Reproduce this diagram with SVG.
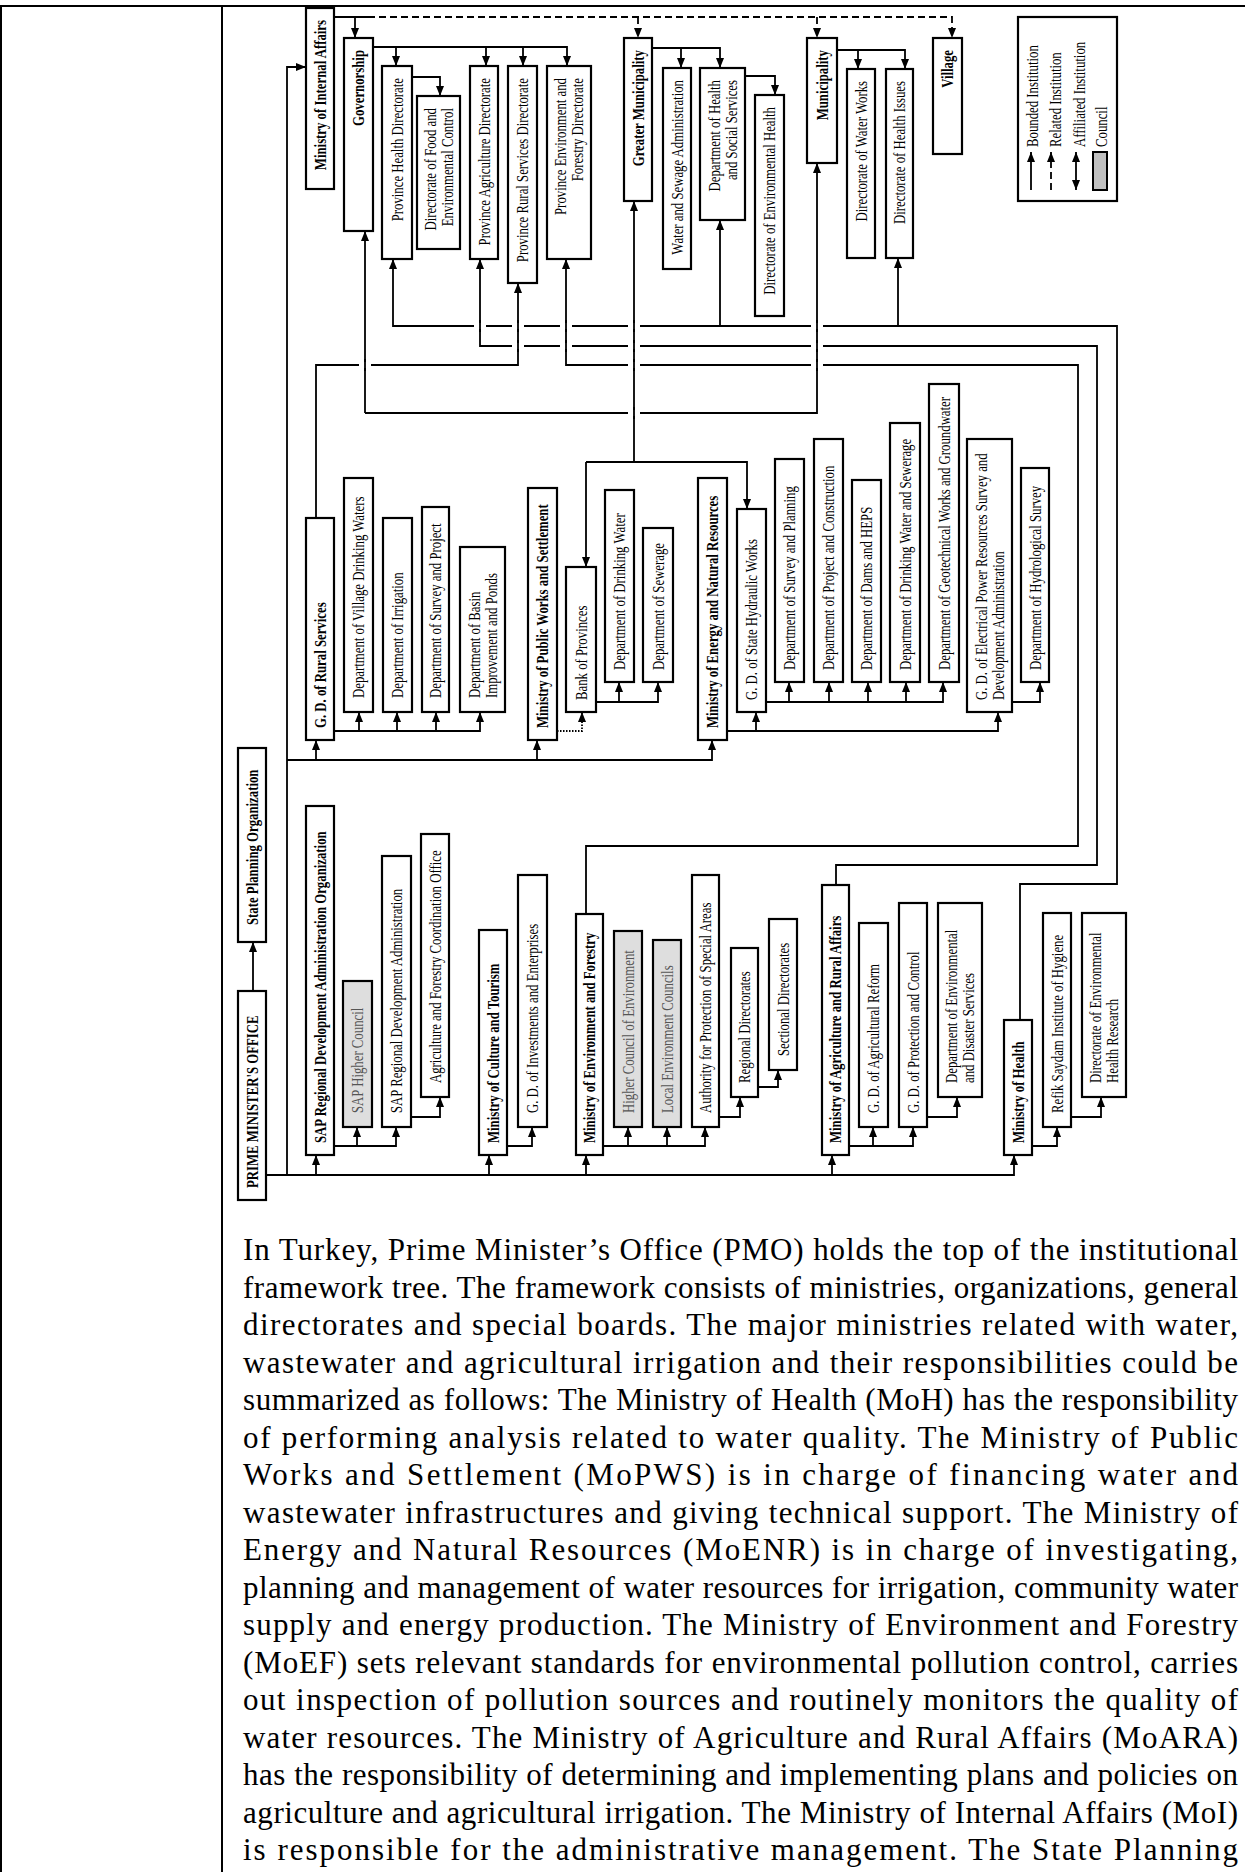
<svg xmlns="http://www.w3.org/2000/svg" width="1245" height="1872" viewBox="0 0 1245 1872">
<defs>
<style>
.b{fill:#fff;stroke:#000;stroke-width:2.2}
.g{fill:#dedede;stroke:#000;stroke-width:2.2}
.t{font-family:"Liberation Serif","Times New Roman",serif;font-size:16.5px;fill:#000}
.tb{font-weight:bold}
.tg{fill:#555}
.e{text-anchor:end}
.c{fill:none;stroke:#000;stroke-width:1.8}
.a{marker-end:url(#ah)}
.d{stroke-dasharray:7 4}
.o{stroke-dasharray:1.5 1.5}
.p{font-family:"Liberation Serif","Times New Roman",serif;font-size:31px;fill:#000}
.f{fill:none;stroke:#000;stroke-width:2}
.gap{fill:#fff;stroke:none}
</style>
<marker id="ah" viewBox="0 0 10 8" refX="10" refY="4" markerWidth="10" markerHeight="8" markerUnits="userSpaceOnUse" orient="auto-start-reverse"><path d="M0,0 L10,4 L0,8 z" fill="#000"/></marker>
</defs>
<rect x="0" y="0" width="1245" height="1872" fill="#fff"/>
<g id="table">
<line class="f" x1="0" y1="6" x2="1245" y2="6" stroke-width="2.5"/>
<line class="f" x1="1" y1="6" x2="1" y2="1872" stroke-width="1.5"/>
<line class="f" x1="222" y1="6" x2="222" y2="1872" stroke-width="1.5"/>
</g>

<g id="connectors">
<path class="c" d="M334,17 H368"/>
<path class="c a" d="M355,17 V38"/>
<path class="c d a" d="M368,17 H952 V38"/>
<path class="c d a" d="M638,17 V38"/>
<path class="c d a" d="M817,17 V38"/>
<path class="c a" d="M373,47 H567 V66"/>
<path class="c a" d="M396,47 V66"/>
<path class="c a" d="M486,47 V66"/>
<path class="c a" d="M523,47 V66"/>
<path class="c a" d="M412,77 H440 V96"/>
<path class="c a" d="M652,48 H720 V68"/>
<path class="c a" d="M681,48 V68"/>
<path class="c a" d="M745,76 H775 V95"/>
<path class="c a" d="M837,50 H905 V69"/>
<path class="c a" d="M858,50 V69"/>
<path class="c a" d="M1020,1020 V884 H1117 V326 H393 V259"/>
<path class="c a" d="M720,326 V220"/>
<path class="c a" d="M898,326 V258"/>
<path class="c a" d="M836,885 V865 H1097 V346 H480 V259"/>
<path class="c a" d="M586,914 V846 H1078 V365 H566 V259"/>
<path class="c a" d="M316,518 V365 H518 V283"/>
<path class="c a" d="M365,413 V231"/>
<path class="c a" d="M365,413 H817 V163"/>
<path class="c a" d="M634,462 V201"/>
<path class="c a" d="M586,462 H747 V509"/>
<path class="c a" d="M586,462 V567"/>
<g>
<rect class="gap" x="474" y="323" width="12" height="6"/><rect class="gap" x="512" y="323" width="12" height="6"/><rect class="gap" x="560" y="323" width="12" height="6"/><rect class="gap" x="628" y="323" width="12" height="6"/><rect class="gap" x="811" y="323" width="12" height="6"/>
<rect class="gap" x="512" y="343" width="12" height="6"/><rect class="gap" x="560" y="343" width="12" height="6"/><rect class="gap" x="628" y="343" width="12" height="6"/><rect class="gap" x="811" y="343" width="12" height="6"/>
<rect class="gap" x="359" y="362" width="12" height="6"/><rect class="gap" x="628" y="362" width="12" height="6"/><rect class="gap" x="811" y="362" width="12" height="6"/>
<rect class="gap" x="628" y="410" width="12" height="6"/>
<path class="c" d="M480,320 V332 M518,320 V332 M566,320 V332 M634,320 V332 M817,320 V332 M518,340 V352 M566,340 V352 M634,340 V352 M817,340 V352 M365,359 V371 M634,359 V371 M817,359 V371 M634,407 V419"/>
</g>
<path class="c a" d="M253,991 V942"/>
<path class="c a" d="M266,1175 H1014 V1155"/>
<path class="c a" d="M316,1175 V1155"/>
<path class="c a" d="M489,1175 V1155"/>
<path class="c a" d="M586,1175 V1155"/>
<path class="c a" d="M832,1175 V1155"/>
<path class="c a" d="M287,1175 V67 H306"/>
<path class="c a" d="M287,760 H712 V740"/>
<path class="c a" d="M316,760 V740"/>
<path class="c a" d="M537,760 V740"/>
<path class="c a" d="M334,731 H480 V712"/>
<path class="c a" d="M359,731 V712"/>
<path class="c a" d="M397,731 V712"/>
<path class="c a" d="M436,731 V712"/>
<path class="c o a" d="M557,731 H582 V712"/>
<path class="c a" d="M596,702 H658 V682"/>
<path class="c a" d="M619,702 V682"/>
<path class="c a" d="M727,731 H998 V712"/>
<path class="c a" d="M756,731 V712"/>
<path class="c a" d="M766,702 H943 V682"/>
<path class="c a" d="M789,702 V682"/>
<path class="c a" d="M829,702 V682"/>
<path class="c a" d="M868,702 V682"/>
<path class="c a" d="M906,702 V682"/>
<path class="c a" d="M1012,702 H1040 V682"/>
<path class="c a" d="M334,1146 H396 V1127"/>
<path class="c a" d="M357,1146 V1127"/>
<path class="c a" d="M411,1117 H440 V1097"/>
<path class="c a" d="M507,1146 H532 V1127"/>
<path class="c a" d="M603,1146 H705 V1127"/>
<path class="c a" d="M628,1146 V1127"/>
<path class="c a" d="M667,1146 V1127"/>
<path class="c a" d="M719,1117 H740 V1097"/>
<path class="c a" d="M758,1087 H778 V1070"/>
<path class="c a" d="M849,1146 H913 V1127"/>
<path class="c a" d="M873,1146 V1127"/>
<path class="c a" d="M927,1117 H957 V1097"/>
<path class="c a" d="M1032,1146 H1057 V1127"/>
<path class="c a" d="M1071,1117 H1101 V1097"/>
</g>

<g id="n-moia"><rect class="b" x="306" y="8" width="28" height="181"/><text class="t tb e" transform="translate(325.5,20) rotate(-90) scale(0.775,1)">Ministry of Internal Affairs</text></g>
<g id="n-gov"><rect class="b" x="344" y="38" width="29" height="193"/><text class="t tb e" transform="translate(364,50) rotate(-90) scale(0.775,1)">Governorship</text></g>
<g id="n-phd"><rect class="b" x="382" y="66" width="30" height="193"/><text class="t e" transform="translate(402.5,78) rotate(-90) scale(0.775,1)">Province Health Directorate</text></g>
<g id="n-dfec"><rect class="b" x="417" y="96" width="43" height="153"/><text class="t e" transform="translate(435.5,108) rotate(-90) scale(0.775,1)">Directorate of Food and</text><text class="t e" transform="translate(452.5,108) rotate(-90) scale(0.775,1)">Environmental Control</text></g>
<g id="n-pad"><rect class="b" x="470" y="66" width="28" height="193"/><text class="t e" transform="translate(489.5,78) rotate(-90) scale(0.775,1)">Province Agriculture Directorate</text></g>
<g id="n-prsd"><rect class="b" x="508" y="66" width="29" height="217"/><text class="t e" transform="translate(528,78) rotate(-90) scale(0.775,1)">Province Rural Services Directorate</text></g>
<g id="n-pefd"><rect class="b" x="547" y="66" width="44" height="193"/><text class="t e" transform="translate(566,78) rotate(-90) scale(0.775,1)">Province Environment and</text><text class="t e" transform="translate(583,78) rotate(-90) scale(0.775,1)">Forestry  Directorate</text></g>
<g id="n-gm"><rect class="b" x="624" y="38" width="28" height="163"/><text class="t tb e" transform="translate(643.5,50) rotate(-90) scale(0.775,1)">Greater Municipality</text></g>
<g id="n-wsa"><rect class="b" x="663" y="68" width="28" height="201"/><text class="t e" transform="translate(682.5,80) rotate(-90) scale(0.775,1)">Water and Sewage  Administration</text></g>
<g id="n-dhss"><rect class="b" x="700" y="68" width="45" height="152"/><text class="t e" transform="translate(719.5,80) rotate(-90) scale(0.775,1)">Department of Health</text><text class="t e" transform="translate(736.5,80) rotate(-90) scale(0.775,1)">and Social Services</text></g>
<g id="n-deh"><rect class="b" x="755" y="95" width="29" height="221"/><text class="t e" transform="translate(775,107) rotate(-90) scale(0.775,1)">Directorate of Environmental Health</text></g>
<g id="n-mun"><rect class="b" x="807" y="38" width="30" height="125"/><text class="t tb e" transform="translate(827.5,50) rotate(-90) scale(0.775,1)">Municipality</text></g>
<g id="n-dww"><rect class="b" x="847" y="69" width="28" height="189"/><text class="t e" transform="translate(866.5,81) rotate(-90) scale(0.775,1)">Directorate of Water Works</text></g>
<g id="n-dhi"><rect class="b" x="886" y="69" width="27" height="189"/><text class="t e" transform="translate(905,81) rotate(-90) scale(0.775,1)">Directorate of Health Issues</text></g>
<g id="n-village"><rect class="b" x="933" y="38" width="29" height="116"/><text class="t tb e" transform="translate(953,50) rotate(-90) scale(0.775,1)">Village</text></g>

<g id="legend">
<rect class="b" x="1018" y="17" width="99" height="184"/>
<path class="c a" d="M1031,190 V152"/>
<path class="c d a" d="M1051,190 V152"/>
<path class="c" d="M1076,190 V152" marker-start="url(#ah)" marker-end="url(#ah)"/>
<rect x="1093" y="152" width="14" height="38" fill="#c0c0c0" stroke="#000" stroke-width="2"/>
<text class="t" transform="translate(1038,147) rotate(-90) scale(0.775,1)">Bounded Institution</text>
<text class="t" transform="translate(1061,147) rotate(-90) scale(0.775,1)">Related Institution</text>
<text class="t" transform="translate(1085,147) rotate(-90) scale(0.775,1)">Affiliated Institution</text>
<text class="t" transform="translate(1107,147) rotate(-90) scale(0.775,1)">Council</text>
</g>

<g id="n-gdrs"><rect class="b" x="306" y="518" width="28" height="222"/><text class="t tb" transform="translate(325.5,728) rotate(-90) scale(0.775,1)">G. D. of Rural Services</text></g>
<g id="n-dvdw"><rect class="b" x="344" y="478" width="29" height="234"/><text class="t" transform="translate(364,698) rotate(-90) scale(0.775,1)">Department of Village Drinking Waters</text></g>
<g id="n-doi"><rect class="b" x="383" y="518" width="29" height="194"/><text class="t" transform="translate(403,698) rotate(-90) scale(0.775,1)">Department of Irrigation</text></g>
<g id="n-dsp"><rect class="b" x="422" y="507" width="27" height="205"/><text class="t" transform="translate(441,698) rotate(-90) scale(0.775,1)">Department of Survey and Project</text></g>
<g id="n-dbip"><rect class="b" x="460" y="547" width="45" height="165"/><text class="t" transform="translate(479.5,698) rotate(-90) scale(0.775,1)">Department of Basin</text><text class="t" transform="translate(496.5,698) rotate(-90) scale(0.775,1)">Improvement  and Ponds</text></g>
<g id="n-mopws"><rect class="b" x="528" y="488" width="29" height="252"/><text class="t tb" transform="translate(548,728) rotate(-90) scale(0.775,1)">Ministry of Public Works and Settlement</text></g>
<g id="n-bop"><rect class="b" x="566" y="567" width="30" height="145"/><text class="t" transform="translate(586.5,700) rotate(-90) scale(0.775,1)">Bank of Provinces</text></g>
<g id="n-ddw"><rect class="b" x="605" y="490" width="29" height="192"/><text class="t" transform="translate(625,670) rotate(-90) scale(0.775,1)">Department of Drinking Water</text></g>
<g id="n-ds"><rect class="b" x="643" y="528" width="30" height="154"/><text class="t" transform="translate(663.5,670) rotate(-90) scale(0.775,1)">Department of Sewerage</text></g>
<g id="n-moenr"><rect class="b" x="698" y="478" width="29" height="262"/><text class="t tb" transform="translate(718,728) rotate(-90) scale(0.775,1)">Ministry of Energy and Natural Resources</text></g>
<g id="n-gdshw"><rect class="b" x="737" y="509" width="29" height="203"/><text class="t" transform="translate(757,700) rotate(-90) scale(0.775,1)">G. D. of State Hydraulic Works</text></g>
<g id="n-dspl"><rect class="b" x="775" y="459" width="29" height="223"/><text class="t" transform="translate(795,670) rotate(-90) scale(0.775,1)">Department of Survey and Planning</text></g>
<g id="n-dpc"><rect class="b" x="814" y="439" width="29" height="243"/><text class="t" transform="translate(834,670) rotate(-90) scale(0.775,1)">Department of Project  and Construction</text></g>
<g id="n-ddh"><rect class="b" x="852" y="480" width="29" height="202"/><text class="t" transform="translate(872,670) rotate(-90) scale(0.775,1)">Department of Dams and HEPS</text></g>
<g id="n-ddws"><rect class="b" x="890" y="423" width="30" height="259"/><text class="t" transform="translate(910.5,670) rotate(-90) scale(0.775,1)">Department of Drinking Water and Sewerage</text></g>
<g id="n-dgwg"><rect class="b" x="929" y="384" width="30" height="298"/><text class="t" transform="translate(949.5,670) rotate(-90) scale(0.775,1)">Department of Geotechnical Works and Groundwater</text></g>
<g id="n-gdep"><rect class="b" x="967" y="439" width="45" height="273"/><text class="t" transform="translate(986.5,700) rotate(-90) scale(0.775,1)">G. D. of Electrical Power Resources Survey and</text><text class="t" transform="translate(1003.5,700) rotate(-90) scale(0.775,1)">Development  Administration</text></g>
<g id="n-dhs"><rect class="b" x="1021" y="468" width="28" height="214"/><text class="t" transform="translate(1040.5,670) rotate(-90) scale(0.775,1)">Department of Hydrological Survey</text></g>

<g id="n-spo"><rect class="b" x="238" y="748" width="28" height="194"/><text class="t tb" transform="translate(257.5,925) rotate(-90) scale(0.775,1)">State Planning Organization</text></g>
<g id="n-pmo"><rect class="b" x="238" y="991" width="28" height="209"/><text class="t tb" transform="translate(257.5,1188) rotate(-90) scale(0.775,1)">PRIME MINISTER'S OFFICE</text></g>
<g id="n-saprdao"><rect class="b" x="306" y="806" width="28" height="349"/><text class="t tb" transform="translate(325.5,1143) rotate(-90) scale(0.775,1)">SAP Regional Development  Administration Organization</text></g>
<g id="n-saphc"><rect class="g" x="343" y="981" width="29" height="146"/><text class="t tg" transform="translate(363,1113) rotate(-90) scale(0.775,1)">SAP Higher Council</text></g>
<g id="n-saprda"><rect class="b" x="382" y="856" width="29" height="271"/><text class="t" transform="translate(402,1113) rotate(-90) scale(0.775,1)">SAP Regional Development  Administration</text></g>
<g id="n-afco"><rect class="b" x="421" y="834" width="28" height="263"/><text class="t" transform="translate(440.5,1083) rotate(-90) scale(0.775,1)">Agriculture and Forestry Coordination Office</text></g>
<g id="n-moct"><rect class="b" x="479" y="930" width="28" height="225"/><text class="t tb" transform="translate(498.5,1143) rotate(-90) scale(0.775,1)">Ministry of Culture and Tourism</text></g>
<g id="n-gdie"><rect class="b" x="518" y="875" width="29" height="252"/><text class="t" transform="translate(538,1113) rotate(-90) scale(0.775,1)">G. D. of Investments and Enterprises</text></g>
<g id="n-moef"><rect class="b" x="576" y="914" width="27" height="241"/><text class="t tb" transform="translate(595,1143) rotate(-90) scale(0.775,1)">Ministry of Environment and Forestry</text></g>
<g id="n-hce"><rect class="g" x="614" y="931" width="28" height="196"/><text class="t tg" transform="translate(633.5,1113) rotate(-90) scale(0.775,1)">Higher Council of Environment</text></g>
<g id="n-lec"><rect class="g" x="653" y="940" width="28" height="187"/><text class="t tg" transform="translate(672.5,1113) rotate(-90) scale(0.775,1)">Local Environment  Councils</text></g>
<g id="n-apsa"><rect class="b" x="692" y="875" width="27" height="252"/><text class="t" transform="translate(711,1113) rotate(-90) scale(0.775,1)">Authority for Protection of Special Areas</text></g>
<g id="n-rd"><rect class="b" x="731" y="948" width="27" height="149"/><text class="t" transform="translate(750,1083) rotate(-90) scale(0.775,1)">Regional Directorates</text></g>
<g id="n-sd"><rect class="b" x="769" y="919" width="28" height="151"/><text class="t" transform="translate(788.5,1056) rotate(-90) scale(0.775,1)">Sectional Directorates</text></g>
<g id="n-moara"><rect class="b" x="822" y="885" width="27" height="270"/><text class="t tb" transform="translate(841,1143) rotate(-90) scale(0.775,1)">Ministry of Agriculture and Rural Affairs</text></g>
<g id="n-gdar"><rect class="b" x="859" y="923" width="29" height="204"/><text class="t" transform="translate(879,1113) rotate(-90) scale(0.775,1)">G. D. of Agricultural Reform</text></g>
<g id="n-gdpc"><rect class="b" x="899" y="903" width="28" height="224"/><text class="t" transform="translate(918.5,1113) rotate(-90) scale(0.775,1)">G. D. of Protection  and Control</text></g>
<g id="n-deds"><rect class="b" x="938" y="903" width="44" height="194"/><text class="t" transform="translate(957,1083) rotate(-90) scale(0.775,1)">Department of Environmental</text><text class="t" transform="translate(974,1083) rotate(-90) scale(0.775,1)">and Disaster Services</text></g>
<g id="n-moh"><rect class="b" x="1004" y="1020" width="28" height="135"/><text class="t tb" transform="translate(1023.5,1143) rotate(-90) scale(0.775,1)">Ministry of Health</text></g>
<g id="n-refik"><rect class="b" x="1043" y="913" width="28" height="214"/><text class="t" transform="translate(1062.5,1113) rotate(-90) scale(0.775,1)">Refik Saydam Institute of Hygiene</text></g>
<g id="n-dehr"><rect class="b" x="1082" y="913" width="44" height="184"/><text class="t" transform="translate(1101,1083) rotate(-90) scale(0.775,1)">Directorate of Environmental</text><text class="t" transform="translate(1118,1083) rotate(-90) scale(0.775,1)">Health  Research</text></g>

<g id="paragraph">
<text class="p" x="243" y="1260" textLength="995" lengthAdjust="spacing">In Turkey, Prime Minister’s Office (PMO) holds the top of the institutional</text>
<text class="p" x="243" y="1297.5" textLength="995" lengthAdjust="spacing">framework tree. The framework consists of ministries, organizations, general</text>
<text class="p" x="243" y="1335" textLength="995" lengthAdjust="spacing">directorates and special boards. The major ministries related with water,</text>
<text class="p" x="243" y="1372.5" textLength="995" lengthAdjust="spacing">wastewater and agricultural irrigation and their responsibilities could be</text>
<text class="p" x="243" y="1410" textLength="995" lengthAdjust="spacing">summarized as follows: The Ministry of Health (MoH) has the responsibility</text>
<text class="p" x="243" y="1447.5" textLength="995" lengthAdjust="spacing">of performing analysis related to water quality. The Ministry of Public</text>
<text class="p" x="243" y="1485" textLength="995" lengthAdjust="spacing">Works and Settlement (MoPWS) is in charge of financing water and</text>
<text class="p" x="243" y="1522.5" textLength="995" lengthAdjust="spacing">wastewater infrastructures and giving technical support. The Ministry of</text>
<text class="p" x="243" y="1560" textLength="995" lengthAdjust="spacing">Energy and Natural Resources (MoENR) is in charge of investigating,</text>
<text class="p" x="243" y="1597.5" textLength="995" lengthAdjust="spacing">planning and management of water resources for irrigation, community water</text>
<text class="p" x="243" y="1635" textLength="995" lengthAdjust="spacing">supply and energy production. The Ministry of Environment and Forestry</text>
<text class="p" x="243" y="1672.5" textLength="995" lengthAdjust="spacing">(MoEF) sets relevant standards for environmental pollution control, carries</text>
<text class="p" x="243" y="1710" textLength="995" lengthAdjust="spacing">out inspection of pollution sources and routinely monitors the quality of</text>
<text class="p" x="243" y="1747.5" textLength="995" lengthAdjust="spacing">water resources. The Ministry of Agriculture and Rural Affairs (MoARA)</text>
<text class="p" x="243" y="1785" textLength="995" lengthAdjust="spacing">has the responsibility of determining and implementing plans and policies on</text>
<text class="p" x="243" y="1822.5" textLength="995" lengthAdjust="spacing">agriculture and agricultural irrigation. The Ministry of Internal Affairs (MoI)</text>
<text class="p" x="243" y="1860" textLength="995" lengthAdjust="spacing">is responsible for the administrative management. The State Planning</text>
</g>
</svg>
